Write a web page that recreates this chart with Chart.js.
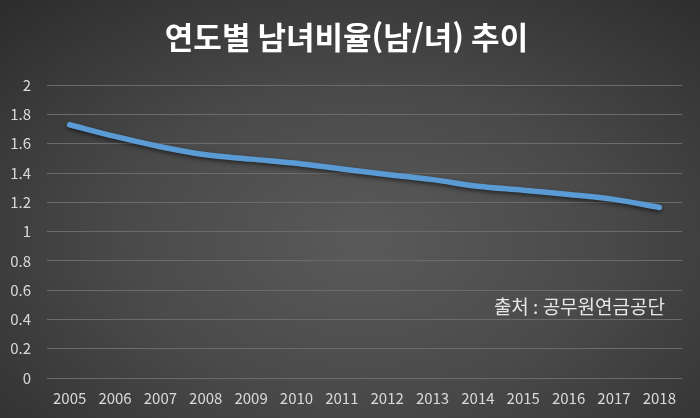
<!DOCTYPE html>
<html lang="ko">
<head>
<meta charset="utf-8">
<script src="https://cdn.jsdelivr.net/npm/chart.js@4"></script>
<style>
  html, body { margin: 0; padding: 0; }
  body {
    width: 700px; height: 418px; overflow: hidden;
    background: radial-gradient(ellipse 75% 80% at 52% 58%, #5a5a5a 0%, #4a4a4a 45%, #2c2c2c 100%);
  }
  #wrap { width: 700px; height: 418px; position: relative; }
</style>
</head>
<body>
<div id="wrap"><canvas id="ratioChart"></canvas></div>
<script>
// 연도별 남녀비율(남/녀)
const years = ['2005', '2006', '2007', '2008', '2009', '2010', '2011', '2012', '2013', '2014', '2015', '2016', '2017', '2018'];
const ratio = [1.73, 1.65, 1.58, 1.525, 1.495, 1.467, 1.428, 1.39, 1.355, 1.31, 1.283, 1.254, 1.22, 1.165];
const yTicks = [0, 0.2, 0.4, 0.6, 0.8, 1, 1.2, 1.4, 1.6, 1.8, 2];

const titleText = '연도별 남녀비율(남/녀) 추이';
const sourceText = '출처 : 공무원연금공단';

const fontFamily = '"Noto Sans CJK KR", "Noto Sans", sans-serif';

// soft shadow under the line, like the Excel original
const lineShadow = {
  id: 'lineShadow',
  beforeDatasetsDraw(chart) {
    const ctx = chart.ctx;
    ctx.save();
    ctx.shadowColor = 'rgba(0,0,0,0.55)';
    ctx.shadowBlur = 4;
    ctx.shadowOffsetY = 2;
  },
  afterDatasetsDraw(chart) {
    chart.ctx.restore();
  }
};

// source note inside the plot
const sourceNote = {
  id: 'sourceNote',
  afterDraw(chart) {
    const ctx = chart.ctx;
    const area = chart.chartArea;
    ctx.save();
    ctx.font = '19px ' + fontFamily;
    ctx.fillStyle = '#e6e6e6';
    ctx.textAlign = 'right';
    ctx.textBaseline = 'middle';
    ctx.fillText(sourceText, area.right - 17, chart.scales.y.getPixelForValue(0.487));
    ctx.restore();
  }
};

new Chart(document.getElementById('ratioChart').getContext('2d'), {
  type: 'line',
  data: {
    labels: years,
    datasets: [{
      data: ratio,
      borderColor: '#5b9bd5',
      borderWidth: 5.5,
      borderCapStyle: 'round',
      borderJoinStyle: 'round',
      tension: 0.35,
      pointRadius: 0,
      fill: false
    }]
  },
  options: {
    responsive: true,
    maintainAspectRatio: false,
    animation: false,
    layout: {
      padding: { left: 11, right: 18, top: 6, bottom: 9 }
    },
    plugins: {
      legend: { display: false },
      tooltip: { enabled: false },
      title: {
        display: true,
        text: titleText,
        color: '#ffffff',
        font: { family: fontFamily, size: 31, weight: 'bold' },
        padding: { top: 13, bottom: 29 }
      }
    },
    scales: {
      x: {
        offset: true,
        grid: { display: false },
        border: { display: false },
        afterFit(scale) { scale.height = 31; },
        ticks: {
          color: '#d9d9d9',
          padding: 3,
          maxRotation: 0,
          autoSkip: false,
          font: { family: fontFamily, size: 15 }
        }
      },
      y: {
        min: 0,
        max: 2,
        afterBuildTicks(scale) {
          scale.ticks = yTicks.map(v => ({ value: v }));
        },
        afterFit(scale) { scale.width = 36; },
        grid: { color: '#6b6b6b', lineWidth: 1, drawTicks: false },
        border: { display: false },
        ticks: {
          color: '#d9d9d9',
          padding: 16,
          font: { family: fontFamily, size: 15 },
          callback: v => String(v)
        }
      }
    }
  },
  plugins: [lineShadow, sourceNote]
});
</script>
</body>
</html>
